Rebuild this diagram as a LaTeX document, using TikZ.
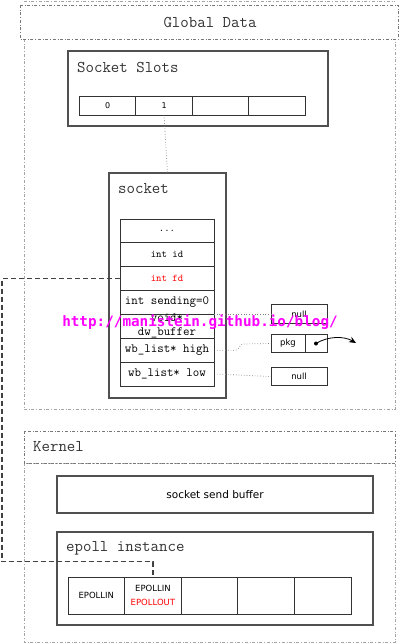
\documentclass[tikz,border=0pt]{standalone}
\usepackage{fontspec}
\usetikzlibrary{arrows.meta}
\newfontfamily\sansf{DejaVu Sans}
\newfontfamily\wmf{DejaVu Sans Mono}
\definecolor{boxc}{RGB}{80,80,80}
\definecolor{grpc}{RGB}{165,165,165}
\definecolor{grpd}{RGB}{120,120,120}
\definecolor{titc}{RGB}{50,50,50}
\definecolor{wm}{RGB}{255,0,255}
\tikzset{
  group/.style={draw=grpc, dash dot, line width=0.9pt},
  grouphead/.style={draw=grpd, dash dot, line width=0.9pt},
  bigbox/.style={draw=boxc, line width=1.2pt, inner sep=0pt, outer sep=0pt},
  cell/.style={draw=black!80, line width=0.9pt, inner sep=0pt, outer sep=0pt},
  title/.style={anchor=west, inner sep=0pt, text=titc, font=\ttfamily\fontsize{16.4}{18}\selectfont},
  field/.style={cell, minimum width=94pt, minimum height=23.86pt, font=\ttfamily\fontsize{12.6}{14}\selectfont, align=center},
  smallfield/.style={field, font=\ttfamily\fontsize{10.3}{12}\selectfont},
  slot/.style={cell, minimum width=56.5pt, minimum height=19pt, font=\sansf\fontsize{8}{10}\selectfont},
  ecell/.style={cell, minimum width=56.6pt, minimum height=37pt, font=\sansf\fontsize{8.5}{13.5}\selectfont, align=center},
  rbox/.style={cell, minimum height=18.5pt, font=\sansf\fontsize{8.5}{10}\selectfont},
  dotlink/.style={draw=gray, dotted, line width=0.7pt},
  dashlink/.style={draw=black!75, dash pattern=on 5pt off 3pt, line width=1.2pt},
}
\begin{document}
\begin{tikzpicture}[x=1pt,y=-1pt]
\useasboundingbox (0,0) rectangle (400,644);
% Global Data group
\draw[group] (24,39) rectangle (395,409);
\draw[grouphead] (20,5) rectangle (398,39);
\draw[group] (24,1.5) -- (395,1.5);
\node[title, anchor=center] (gd) at (210,22) {Global Data};
% Socket slots
\node[bigbox, minimum width=260pt, minimum height=75pt] (slotsbox) at (198,88.5) {};
\node[title] (slotstitle) at (77,67) {Socket Slots};
\node[slot] (s0) at (107.6,105.5) {0};
\node[slot] (s1) at (164.1,105.5) {1};
\node[slot] (s2) at (220.6,105.5) {};
\node[slot] (s3) at (277.1,105.5) {};
% socket
\node[bigbox, minimum width=117pt, minimum height=225pt] (sockbox) at (167.5,285.5) {};
\node[title] (socktitle) at (118,189) {socket};
\node[smallfield] (f0) at (167,230.9) {...};
\node[smallfield] (fid) at (167,254.8) {int id};
\node[smallfield, text=red] (ffd) at (167,278.6) {int fd};
\node[field] (fsend) at (167,302.5) {int sending=0};
\node[field] (fdw) at (167,326.3) {void*\\dw\_buffer};
\node[field] (fhigh) at (167,350.2) {wb\_list* high};
\node[field] (flow) at (167,374.1) {wb\_list* low};
\draw[dotlink] (s1.south) -- (sockbox.north);
% right boxes
\node[rbox, minimum width=56pt] (null1) at (299,314) {null};
\node[rbox, minimum width=34pt] (pkg) at (288,343.5) {pkg};
\node[rbox, minimum width=22pt] (pkgp) at (316,343.5) {};
\node[rbox, minimum width=56pt] (null2) at (299,376.5) {null};
\coordinate (hk1) at (236,350.2);
\coordinate (hk2) at (243,344);
\coordinate (pend) at (356,343);
\draw[dotlink] (null1.west -| fdw.east) -- (null1.west);
\draw[dotlink] ([xshift=3pt]fhigh.east) -- (hk1) .. controls (240,350) and (239,344) .. (hk2) -- (pkg.west);
\draw[dotlink] ([xshift=3pt]flow.east) -- (null2.west);
\fill (pkgp.center) circle (2pt);
\draw[line width=0.8pt, -{Stealth[length=7pt,width=6pt]}] (pkgp.center) .. controls (328,336) and (344,336) .. (pend);
% Kernel group
\draw[group] (24,463) rectangle (395,642);
\draw[grouphead] (24,431) rectangle (395,463);
\node[title] (ktitle) at (33,447) {Kernel};
\node[bigbox, minimum width=316pt, minimum height=37pt, font=\sansf\fontsize{10.5}{12}\selectfont] (ssb) at (215,494.5) {socket send buffer};
\node[bigbox, minimum width=316pt, minimum height=93pt] (epbox) at (215,578.5) {};
\node[title] (eptitle) at (66,548) {epoll instance};
\node[ecell] (e1) at (96.3,595.5) {EPOLLIN};
\node[ecell] (e2) at (152.9,595.5) {EPOLLIN\\\textcolor{red}{EPOLLOUT}};
\node[ecell] (e3) at (209.5,595.5) {};
\node[ecell] (e4) at (266.1,595.5) {};
\node[ecell] (e5) at (322.7,595.5) {};
% dashed link fd -> epoll
\coordinate (c1) at (2,278.6);
\coordinate (c2) at (2,561.7);
\draw[dashlink] (ffd.west) -- (c1) -- (c2) -- (c2 -| e2.north) -- (e2.north);
% watermark
\node[text=wm, font=\wmf\bfseries\fontsize{14.3}{16}\selectfont, inner sep=0pt] (wmk) at (200,322) {http://manistein.github.io/blog/};
\end{tikzpicture}
\end{document}
